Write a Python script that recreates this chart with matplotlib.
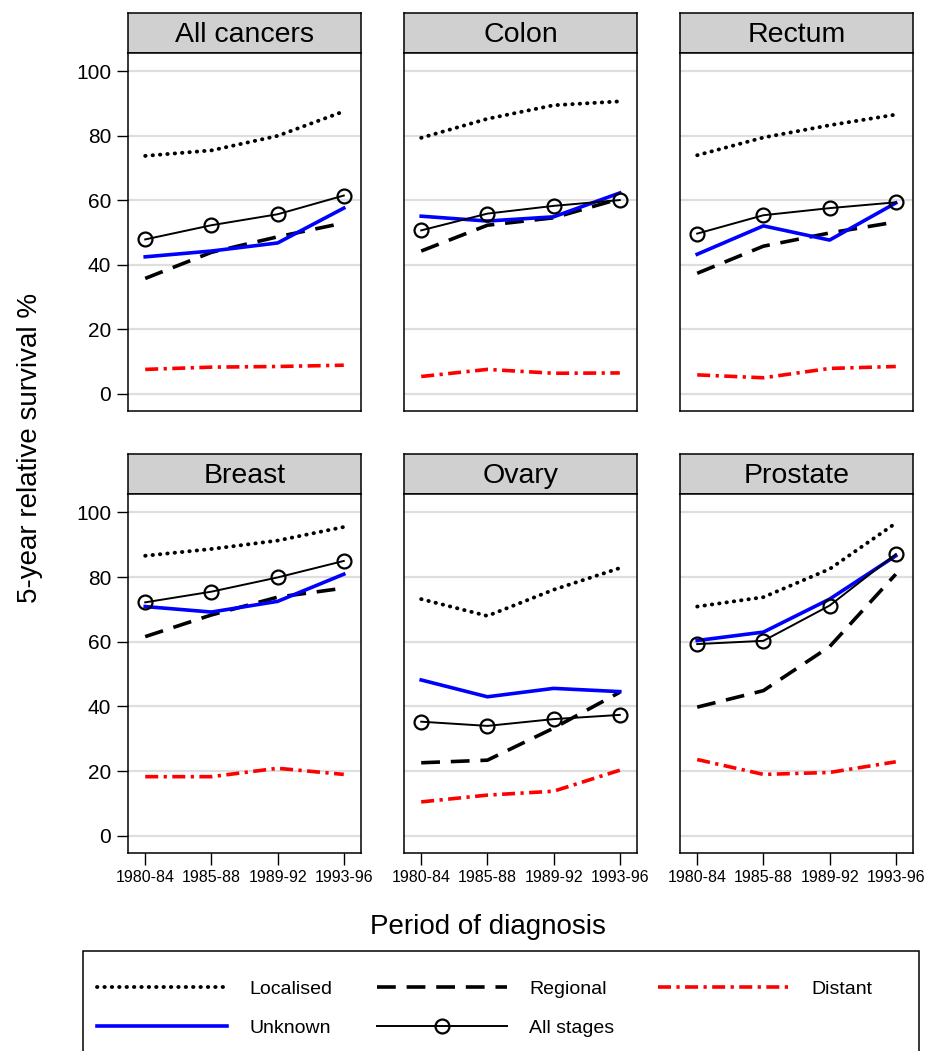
import matplotlib.pyplot as plt
from matplotlib.lines import Line2D
from matplotlib.patches import Rectangle

plt.rcParams['font.family'] = ['Liberation Sans', 'DejaVu Sans']

periods = ["1980-84", "1985-88", "1989-92", "1993-96"]
sites = ["All cancers", "Colon", "Rectum", "Breast", "Ovary", "Prostate"]

# 5-year relative survival (%) by stage, one list per site
localised = {
    "All cancers": [73.8, 75.5, 80.0, 87.6],
    "Colon": [79.4, 85.3, 89.5, 90.7],
    "Rectum": [74.0, 79.5, 83.3, 86.6],
    "Breast": [86.6, 88.7, 91.3, 95.5],
    "Ovary": [73.2, 68.0, 76.1, 82.8],
    "Prostate": [70.9, 73.8, 82.5, 96.7],
}
regional = {
    "All cancers": [35.8, 43.9, 48.7, 53.0],
    "Colon": [44.3, 52.3, 54.6, 60.5],
    "Rectum": [37.4, 45.8, 49.9, 53.3],
    "Breast": [61.6, 68.3, 73.8, 76.6],
    "Ovary": [22.6, 23.4, 33.3, 44.4],
    "Prostate": [39.8, 44.9, 58.5, 80.9],
}
distant = {
    "All cancers": [7.6, 8.3, 8.5, 8.9],
    "Colon": [5.4, 7.6, 6.4, 6.5],
    "Rectum": [5.9, 5.0, 7.9, 8.5],
    "Breast": [18.3, 18.3, 20.9, 19.0],
    "Ovary": [10.5, 12.6, 13.8, 20.3],
    "Prostate": [23.6, 19.0, 19.6, 22.9],
}
unknown = {
    "All cancers": [42.5, 44.3, 46.8, 57.6],
    "Colon": [55.1, 53.6, 54.9, 62.3],
    "Rectum": [43.3, 52.1, 47.7, 59.2],
    "Breast": [70.9, 69.2, 72.5, 80.9],
    "Ovary": [48.2, 43.0, 45.6, 44.6],
    "Prostate": [60.4, 63.0, 73.2, 86.6],
}
all_stages = {
    "All cancers": [47.9, 52.3, 55.7, 61.5],
    "Colon": [50.7, 55.9, 58.3, 60.1],
    "Rectum": [49.7, 55.4, 57.6, 59.4],
    "Breast": [72.2, 75.5, 79.9, 85.0],
    "Ovary": [35.3, 34.0, 36.1, 37.4],
    "Prostate": [59.3, 60.3, 71.2, 87.1],
}

yticks = [0, 20, 40, 60, 80, 100]

W, H = 929, 1051
fig = plt.figure(figsize=(W / 100, H / 100), dpi=100)


def box(x0, y0, x1, y1):
    # pixel box (top-left origin) -> figure fraction rect
    return [x0 / W, 1 - y1 / H, (x1 - x0) / W, (y1 - y0) / H]


lefts = [128, 404, 680]
width = 233
rows = [(13, 53, 411), (454, 494, 853)]

styles = [
    (localised, dict(color="black", lw=2.8, ls=(0, (0.1, 1.8)), dash_capstyle="round")),
    (regional, dict(color="black", lw=2.6, ls=(0, (5.2, 3.0)))),
    (distant, dict(color="red", lw=2.6, ls=(0, (3.6, 1.5, 0.9, 1.5)))),
    (unknown, dict(color="blue", lw=2.6, ls="-")),
    (all_stages, dict(color="black", lw=1.4, ls="-", marker="o", ms=10,
                      mfc="none", mec="black", mew=1.6)),
]

x = list(range(len(periods)))
for i, site in enumerate(sites):
    r, c = divmod(i, 3)
    htop, hbot, abot = rows[r]
    x0 = lefts[c]

    hax = fig.add_axes(box(x0, htop, x0 + width, hbot))
    hax.set_facecolor("#d0d0d0")
    hax.set_xticks([])
    hax.set_yticks([])
    for s in hax.spines.values():
        s.set_linewidth(1.1)
    hax.text(0.5, 0.44, site, ha="center", va="center", fontsize=20.5,
             transform=hax.transAxes)

    ax = fig.add_axes(box(x0, hbot, x0 + width, abot))
    for data, kw in styles:
        ax.plot(x, data[site], **kw)

    ax.set_xlim(-0.26, 3.26)
    ax.set_ylim(-5.3, 105.7)
    ax.set_yticks(yticks)
    ax.grid(axis="y", color="#dedede", lw=1.6)
    ax.set_axisbelow(True)
    for s in ax.spines.values():
        s.set_linewidth(1.1)

    if c == 0:
        ax.tick_params(axis="y", length=8, width=1.0, pad=4, labelsize=15)
    else:
        ax.tick_params(axis="y", length=0, labelleft=False)

    ax.set_xticks(x)
    if r == 1:
        ax.set_xticklabels(periods)
        ax.tick_params(axis="x", length=8.5, width=1.0, pad=4, labelsize=11.5)
    else:
        ax.tick_params(axis="x", length=0, labelbottom=False)

fig.text(30 / W, 1 - 448 / H, "5-year relative survival %", rotation=90,
         ha="center", va="center", fontsize=20)
fig.text(488 / W, 1 - 927 / H, "Period of diagnosis", ha="center",
         va="center", fontsize=20)

# legend frame runs off the bottom edge of the figure
fig.patches.append(Rectangle((83 / W, -0.02), (919 - 83) / W, 0.02 + 1 - 951 / H,
                             transform=fig.transFigure, fill=False,
                             edgecolor="black", lw=1.1))

handles = [
    Line2D([], [], **styles[0][1]),
    Line2D([], [], **styles[3][1]),
    Line2D([], [], **styles[1][1]),
    Line2D([], [], **styles[4][1]),
    Line2D([], [], **styles[2][1]),
]
labels = ["Localised", "Unknown", "Regional", "All stages", "Distant"]
fig.legend(handles, labels, ncol=3, loc="upper left",
           bbox_to_anchor=(97 / W, 0, (872 - 97) / W, 1 - 980 / H),
           mode="expand", fontsize=14, handlelength=6.7,
           handletextpad=1.15, labelspacing=1.1, borderpad=0,
           borderaxespad=0, frameon=False)

fig.savefig("out.png", dpi=100)
